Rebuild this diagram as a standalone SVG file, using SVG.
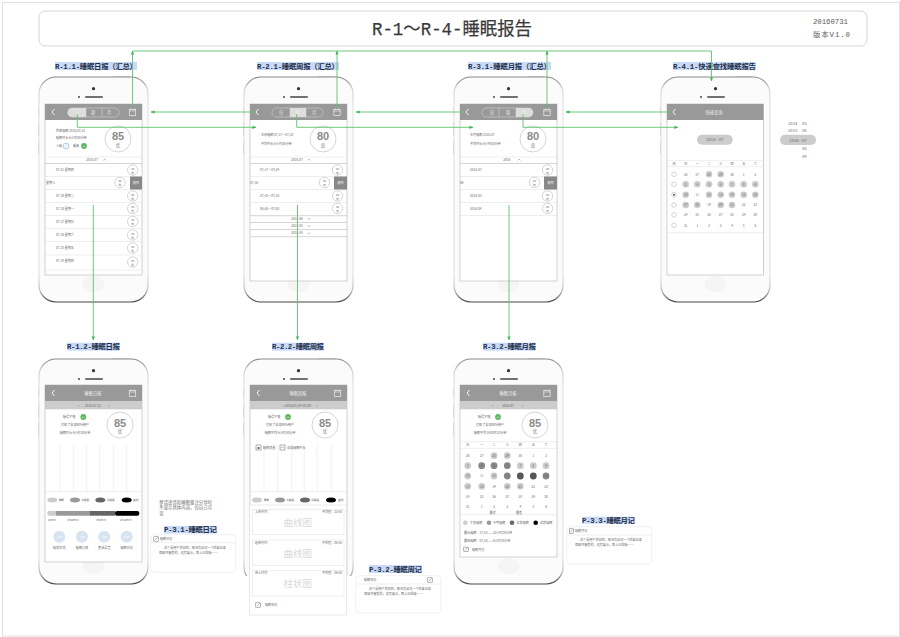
<svg xmlns="http://www.w3.org/2000/svg" width="900" height="637" viewBox="0 0 900 637">
<style>
text{font-family:"Noto Sans CJK SC","Liberation Sans",sans-serif;fill:#666;font-size:3.1px;opacity:.96}
.c{text-anchor:middle}
.r{text-anchor:end}
.lbl{font-family:"Liberation Mono","Noto Sans CJK SC",monospace;font-size:7.4px;font-weight:700;fill:#1a2a44}
.hl{fill:#c9daf8}
text.w{fill:#f4f4f4}
.t{font-size:4.2px}
.big{font-family:"Liberation Sans","DejaVu Sans",sans-serif;font-size:11px;font-weight:700;fill:#888}
.med{font-size:4.4px;fill:#777}
.wm{font-size:9.5px;fill:#d8d8d8}
.sc{fill:#fff;stroke:#aaa;stroke-width:.5}
.scr{fill:#fff;stroke:#b4b4b4;stroke-width:.6}
.hd{fill:#999}
.sub{fill:#ccc}
.ln{stroke:#ddd;stroke-width:.5;fill:none}
.ld{stroke:#aaa;stroke-width:.5;fill:none}
.ch{stroke:#e2e2e2;stroke-width:.5;fill:none}
.cv{fill:none;stroke:#666;stroke-width:.4}
.c1{fill:#ccc}.c2{fill:#999}.c3{fill:#666}.c4{fill:#000}
.conn{fill:none;stroke:#5cc46c;stroke-width:.9}
.card{fill:#fff;stroke:#e8e8e8;stroke-width:.6}
.sm{font-size:2.8px}
</style>
<defs>
<marker id="a" markerWidth="4" markerHeight="4" refX="3.6" refY="2" orient="auto" markerUnits="userSpaceOnUse"><path d="M0,.4L4,2L0,3.600z" fill="#3fb653"/></marker>
<linearGradient id="b" x1="0" y1="0" x2="0" y2="1"><stop offset="0" stop-color="#888"/><stop offset=".05" stop-color="#d0d0d0"/><stop offset=".12" stop-color="#e4e4e4"/><stop offset=".88" stop-color="#e4e4e4"/><stop offset=".95" stop-color="#bbb"/><stop offset="1" stop-color="#444"/></linearGradient>
<g id="phone">
<rect x="74" y="-1" width="17" height="3" rx="1" fill="#ddd"/>
<rect x="-1" y="30" width="2" height="8" fill="#ccc"/><rect x="-1" y="46" width="2" height="13" fill="#ccc"/><rect x="-1" y="64" width="2" height="13" fill="#ccc"/>
<rect x="0" y="0" width="109" height="225" rx="17" fill="#fbfbfb" stroke="url(#b)" stroke-width="1.200"/>
<circle cx="54.500" cy="11.700" r="1.600" fill="#333"/><circle cx="40" cy="20" r=".9" fill="#333"/>
<rect x="46" y="19.200" width="18" height="1.600" rx=".8" fill="#444"/>
<ellipse cx="54.500" cy="207" rx="10" ry="7.500" fill="#f5f5f5" stroke="#eee" stroke-width=".6"/>
</g>
<path id="back" d="M2.500,-3L0,0L2.500,3" fill="none" stroke="#f6f6f6" stroke-width="1"/>
<g id="cal"><rect x="-3.200" y="-2.600" width="6.400" height="6" fill="none" stroke="#eee" stroke-width=".7"/><path d="M-3.200,-1H3.200M-1.600,-3.600V-2M1.600,-3.600V-2" stroke="#eee" stroke-width=".6"/></g>
<g id="edit"><rect x="-2.200" y="-2.200" width="4.400" height="4.400" fill="#fff" stroke="#666" stroke-width=".5"/><path d="M-1,1L1.800,-1.800" stroke="#666" stroke-width=".5"/></g>
<g id="smile"><circle r="2.900" fill="#5cb85c"/><path d="M-1.400,.8Q0,-.8 1.400,.8" fill="none" stroke="#fff" stroke-width=".5"/></g>
</defs>
<rect width="900" height="637" fill="#fff"/>
<rect x="2.500" y="2.500" width="897" height="633.500" fill="#fff" stroke="#e0e0e0"/>
<g id="title">
<rect x="39" y="11" width="828" height="35" rx="6" fill="#fff" stroke="#ccc" stroke-width=".8"/>
<text x="372" y="35" textLength="160" lengthAdjust="spacingAndGlyphs" style="font-family:'Liberation Mono','Noto Sans CJK SC',monospace;font-size:18.500px;fill:#333;stroke:#333;stroke-width:.25">R-1～R-4-睡眠报告</text>
<text x="813" y="24" textLength="35" style="font-family:'Liberation Mono',monospace;font-size:7.400px;fill:#555">20160731</text>
<text x="813" y="36.500" textLength="37" style="font-family:'Liberation Mono','Noto Sans CJK SC',monospace;font-size:7.400px;fill:#555">版本V1.0</text>
</g>

<g id="R-1-1">
<rect class="hl" x="55" y="62" width="82" height="8"/><text class="lbl" x="55" y="68.600" textLength="82">R-1.1-睡眠日报（汇总）</text>
<use href="#phone" x="39" y="77"/>
<rect class="scr" x="45" y="104" width="97" height="171"/><rect class="hd" x="45" y="104" width="97" height="16"/>
<use href="#back" x="52" y="112"/><use href="#cal" x="132.500" y="112"/>
<rect x="68" y="108" width="51" height="9" rx="4.500" fill="none" stroke="#ddd" stroke-width=".5"/>
<path d="M72,108H86V117H72a4.500,4.500 0 0 1 0,-9z" fill="#ddd"/><path class="ln" d="M86,108V117M102,108V117"/>
<text class="w c t" x="77" y="114">日</text><text class="w c t" x="93" y="114">周</text><text class="w c t" x="109" y="114">月</text>
<text x="56" y="132">昨夜睡眠 2016/07/31</text><text x="56" y="138.500">睡眠时长 6小时30分钟</text>
<text x="56" y="147.200">入睡</text><circle cx="66" cy="146" r="3" fill="#eaf2fb" stroke="#6fa8dc" stroke-width=".5"/>
<text x="73" y="147.200">醒来</text><use href="#smile" x="84" y="146"/>
<circle class="sc" cx="118" cy="139" r="13"/><text class="big c" x="118" y="140">85</text><text class="med c" x="118" y="147">优</text>
<path class="ln" d="M45,157H142"/><text class="c" x="92" y="160.800">2016-07</text><path class="cv" d="M103.200,160.500L104.700,159L106.200,160.500"/>
<path class="ld" d="M45,163.500H142"/><path class="ln" d="M45,176.500H142M45,189.500H142M45,202.500H142M45,215.500H142M45,228.500H142M45,241.500H142M45,255H142M45,270H142"/>
<rect x="130" y="176.500" width="12" height="13" fill="#888"/><text class="w c" x="136" y="184.300">删除</text>
<text x="56" y="171">07-31 星期四</text><text x="46" y="183.500">星期三</text><text x="56" y="197">07-29 星期二</text><text x="56" y="210">07-28 星期一</text><text x="56" y="222.500">07-27 星期日</text><text x="56" y="235.500">07-26 星期六</text><text x="56" y="248.500">07-25 星期五</text><text x="56" y="262">07-24 星期四</text>
<circle class="sc" cx="132.700" cy="170" r="5.200"/><text class="c sm" x="132.700" y="169.500">85</text><text class="c sm" x="132.700" y="173.500">优</text>
<circle class="sc" cx="120" cy="182.500" r="5.200"/><text class="c sm" x="120" y="182">85</text><text class="c sm" x="120" y="186">优</text>
<circle class="sc" cx="132.700" cy="196" r="5.200"/><text class="c sm" x="132.700" y="195.500">85</text><text class="c sm" x="132.700" y="199.500">优</text>
<circle class="sc" cx="132.700" cy="208.500" r="5.200"/><text class="c sm" x="132.700" y="208">85</text><text class="c sm" x="132.700" y="212">优</text>
<circle class="sc" cx="132.700" cy="221.500" r="5.200"/><text class="c sm" x="132.700" y="221">85</text><text class="c sm" x="132.700" y="225">优</text>
<circle class="sc" cx="132.700" cy="235" r="5.200"/><text class="c sm" x="132.700" y="234.500">85</text><text class="c sm" x="132.700" y="238.500">优</text>
<circle class="sc" cx="132.700" cy="248" r="5.200"/><text class="c sm" x="132.700" y="247.500">85</text><text class="c sm" x="132.700" y="251.500">优</text>
<circle class="sc" cx="132.700" cy="262" r="5.200"/><text class="c sm" x="132.700" y="261.500">85</text><text class="c sm" x="132.700" y="265.500">优</text>
</g>

<g id="R-2-1">
<rect class="hl" x="257" y="62" width="82" height="8"/><text class="lbl" x="257" y="68.600" textLength="82">R-2.1-睡眠周报（汇总）</text>
<use href="#phone" x="244" y="77"/>
<rect class="scr" x="250" y="104" width="97" height="177"/><rect class="hd" x="250" y="104" width="97" height="16"/>
<use href="#back" x="256" y="112"/><use href="#cal" x="337" y="112"/>
<rect x="272" y="108" width="51" height="9" rx="4.500" fill="none" stroke="#ddd" stroke-width=".5"/>
<rect x="290" y="108" width="16" height="9" fill="#ddd"/><path class="ln" d="M290,108V117M306,108V117"/>
<text class="w c t" x="281" y="114">日</text><text class="w c t" x="297.500" y="114">周</text><text class="w c t" x="314" y="114">月</text>
<text x="261" y="136">本周睡眠 07/17 ~ 07/23</text><text x="261" y="144.500">平均时长 6小时30分钟</text>
<circle class="sc" cx="323" cy="139" r="13"/><text class="big c" x="323" y="140">80</text><text class="med c" x="323" y="147">良</text>
<path class="ln" d="M250,157H347"/><text class="c" x="297" y="160.800">2016-07</text><path class="cv" d="M307.500,160.500L309,159L310.500,160.500"/>
<path class="ld" d="M250,163.500H347"/><path class="ln" d="M250,176.500H347M250,189.500H347M250,202.500H347"/><path class="ld" d="M250,215.700H347M250,222.500H347M250,229.500H347M250,236.700H347"/>
<rect x="334" y="176.500" width="13" height="13" fill="#888"/><text class="w c" x="340.500" y="184.300">删除</text>
<text x="260" y="171">07/17 ~ 07/24</text><text x="250" y="183.500">07/16</text><text x="260" y="196.500">07/10 ~ 07/16</text><text x="260" y="210">06/26 ~ 07/02</text>
<text class="c" x="297" y="219.500">2016-06</text><text class="c" x="297" y="226.800">2016-05</text><text class="c" x="297" y="234.200">2016-04</text>
<path class="cv" d="M307.500,218L309,219.500L310.500,218M307.500,225.300L309,226.800L310.500,225.300M307.500,232.700L309,234.200L310.500,232.700"/>
<circle class="sc" cx="337.500" cy="170" r="5.200"/><text class="c sm" x="337.500" y="169.500">80</text><text class="c sm" x="337.500" y="173.500">良</text>
<circle class="sc" cx="324.500" cy="182.500" r="5.200"/><text class="c sm" x="324.500" y="182">80</text><text class="c sm" x="324.500" y="186">良</text>
<circle class="sc" cx="337.500" cy="196" r="5.200"/><text class="c sm" x="337.500" y="195.500">80</text><text class="c sm" x="337.500" y="199.500">良</text>
<circle class="sc" cx="337.500" cy="208.500" r="5.200"/><text class="c sm" x="337.500" y="208">80</text><text class="c sm" x="337.500" y="212">良</text>
</g>

<g id="R-3-1">
<rect class="hl" x="468" y="62" width="83" height="8"/><text class="lbl" x="468" y="68.600" textLength="83">R-3.1-睡眠月报（汇总）</text>
<use href="#phone" x="454" y="77"/>
<rect class="scr" x="460" y="104" width="97" height="177"/><rect class="hd" x="460" y="104" width="97" height="16"/>
<use href="#back" x="466" y="112"/><use href="#cal" x="547" y="112"/>
<rect x="482" y="108" width="51" height="9" rx="4.500" fill="none" stroke="#ddd" stroke-width=".5"/>
<path d="M516,108H528.500a4.500,4.500 0 0 1 0,9H516z" fill="#ddd"/><path class="ln" d="M499,108V117M516,108V117"/>
<text class="w c t" x="492" y="114">日</text><text class="w c t" x="508" y="114">周</text><text class="w c t" x="524" y="114">月</text>
<text x="470" y="136">本月睡眠 2016-07</text><text x="470" y="144.500">平均时长 6小时30分钟</text>
<circle class="sc" cx="533" cy="139" r="13"/><text class="big c" x="533" y="140">80</text><text class="med c" x="533" y="147">良</text>
<path class="ln" d="M460,157H557"/><text class="c" x="506.700" y="160.800">2016</text><path class="cv" d="M517.500,160.500L519,159L520.500,160.500"/>
<path class="ld" d="M460,163.500H557"/><path class="ln" d="M460,176.500H557M460,189.500H557M460,202.500H557M460,215.500H557"/>
<rect x="544" y="176.500" width="13" height="13" fill="#888"/><text class="w c" x="550.500" y="184.300">删除</text>
<text x="470" y="171">2016-07</text><text x="460" y="183.500">06</text><text x="470" y="197">2016-05</text><text x="470" y="210">2016-04</text>
<circle class="sc" cx="547.500" cy="170" r="5.200"/><text class="c sm" x="547.500" y="169.500">80</text><text class="c sm" x="547.500" y="173.500">良</text>
<circle class="sc" cx="534.500" cy="182.500" r="5.200"/><text class="c sm" x="534.500" y="182">80</text><text class="c sm" x="534.500" y="186">良</text>
<circle class="sc" cx="547.500" cy="196" r="5.200"/><text class="c sm" x="547.500" y="195.500">80</text><text class="c sm" x="547.500" y="199.500">良</text>
<circle class="sc" cx="547.500" cy="208.500" r="5.200"/><text class="c sm" x="547.500" y="208">80</text><text class="c sm" x="547.500" y="212">良</text>
</g>

<g id="R-4-1">
<rect class="hl" x="673" y="62" width="83" height="8"/><text class="lbl" x="673" y="68.600" textLength="83">R-4.1-快速查找睡眠报告</text>
<use href="#phone" x="661" y="77"/>
<rect class="scr" x="667" y="104" width="96.500" height="171"/><rect class="hd" x="667" y="104" width="96.500" height="16"/>
<use href="#back" x="673" y="112"/><text class="w c t" x="714" y="113.500">快速查询</text>
<rect x="697" y="134.700" width="35.700" height="10" rx="5" fill="#ccc"/><text class="c t" x="714.800" y="141.300">2016 - 07</text>
<path class="ln" d="M667,160.700H763.500M667,166.700H763.500M667,232.700H763.500"/>
<text class="c" x="674" y="165">周</text><text class="c" x="685.700" y="165">日</text><text class="c" x="697.300" y="165">一</text><text class="c" x="709" y="165">二</text><text class="c" x="720.700" y="165">三</text><text class="c" x="732" y="165">四</text><text class="c" x="743.700" y="165">五</text><text class="c" x="755.300" y="165">六</text>
<g fill="#fff" stroke="#aaa" stroke-width=".5"><circle cx="674" cy="174.300" r="2.300"/><circle cx="674" cy="184.300" r="2.300"/><circle cx="674" cy="194.700" r="2.300"/><circle cx="674" cy="205" r="2.300"/><circle cx="674" cy="215" r="2.300"/><circle cx="674" cy="225.300" r="2.300"/></g><circle cx="674" cy="194.700" r="1" fill="#555"/>
<g class="c1"><circle cx="709" cy="174.300" r="3.300"/><circle cx="720.700" cy="174.300" r="3.300"/><circle cx="685.700" cy="184.300" r="3.300"/><circle cx="697.300" cy="184.300" r="3.300"/><circle cx="709" cy="184.300" r="3.300"/><circle cx="720.700" cy="184.300" r="3.300"/><circle cx="732" cy="184.300" r="3.300"/><circle cx="743.700" cy="184.300" r="3.300"/><circle cx="755.300" cy="184.300" r="3.300"/><circle cx="685.700" cy="194.700" r="3.300"/><circle cx="709" cy="194.700" r="3.300"/><circle cx="720.700" cy="194.700" r="3.300"/><circle cx="732" cy="194.700" r="3.300"/><circle cx="743.700" cy="194.700" r="3.300"/><circle cx="755.300" cy="194.700" r="3.300"/><circle cx="685.700" cy="205" r="3.300"/><circle cx="697.300" cy="205" r="3.300"/><circle cx="720.700" cy="205" r="3.300"/><circle cx="732" cy="205" r="3.300"/></g>
<text class="c" x="685.700" y="175.500">26</text><text class="c" x="697.300" y="175.500">27</text><text class="c" x="709" y="175.500">28</text><text class="c" x="720.700" y="175.500">29</text><text class="c" x="732" y="175.500">30</text><text class="c" x="743.700" y="175.500">1</text><text class="c" x="755.300" y="175.500">2</text>
<text class="c" x="685.700" y="185.500">3</text><text class="c" x="697.300" y="185.500">4</text><text class="c" x="709" y="185.500">5</text><text class="c" x="720.700" y="185.500">6</text><text class="c" x="732" y="185.500">7</text><text class="c" x="743.700" y="185.500">8</text><text class="c" x="755.300" y="185.500">9</text>
<text class="c" x="685.700" y="196">10</text><text class="c" x="697.300" y="196">11</text><text class="c" x="709" y="196">12</text><text class="c" x="720.700" y="196">13</text><text class="c" x="732" y="196">14</text><text class="c" x="743.700" y="196">15</text><text class="c" x="755.300" y="196">16</text>
<text class="c" x="685.700" y="206.200">17</text><text class="c" x="697.300" y="206.200">18</text><text class="c" x="709" y="206.200">19</text><text class="c" x="720.700" y="206.200">20</text><text class="c" x="732" y="206.200">21</text><text class="c" x="743.700" y="206.200">22</text><text class="c" x="755.300" y="206.200">23</text>
<text class="c" x="685.700" y="216.200">24</text><text class="c" x="697.300" y="216.200">25</text><text class="c" x="709" y="216.200">26</text><text class="c" x="720.700" y="216.200">27</text><text class="c" x="732" y="216.200">28</text><text class="c" x="743.700" y="216.200">29</text><text class="c" x="755.300" y="216.200">30</text>
<text class="c" x="685.700" y="226.500">31</text><text class="c" x="697.300" y="226.500">1</text><text class="c" x="709" y="226.500">2</text><text class="c" x="720.700" y="226.500">3</text><text class="c" x="732" y="226.500">4</text><text class="c" x="743.700" y="226.500">5</text><text class="c" x="755.300" y="226.500">6</text>
</g>

<g id="date-picker">
<text class="t" x="788" y="124.500">2014</text><text class="t" x="802" y="124.500">05</text>
<text class="t" x="788" y="132">2015</text><text class="t" x="802" y="132">06</text>
<rect x="780" y="134.700" width="36" height="10.300" rx="5.100" fill="#ccc"/><text class="c t" x="798" y="141.500">2016 - 07</text>
<text class="t" x="802" y="150">08</text><text class="t" x="802" y="157.500">09</text>
</g>

<g id="R-1-2">
<rect class="hl" x="67" y="342.700" width="53" height="8"/><text class="lbl" x="67" y="349.300" textLength="53">R-1.2-睡眠日报</text>
<use href="#phone" x="39" y="359"/>
<rect class="scr" x="45" y="385" width="97" height="177"/><rect class="hd" x="45" y="385" width="97" height="16"/><rect class="sub" x="45" y="401" width="97" height="8.300"/>
<use href="#back" x="52" y="393"/><use href="#cal" x="132.500" y="393"/><text class="w c t" x="93" y="394.500">睡眠日报</text>
<text class="c" x="78.700" y="406.500">&lt;</text><text class="c" x="93" y="406.500">2016-07-31</text><text class="c" x="109" y="406.500">&gt;</text>
<text x="63" y="418.200">睡得不错</text><use href="#smile" x="83.300" y="417"/>
<text class="c" x="75" y="426.200">打败了全球90%用户</text><text class="c" x="75" y="434.200">睡眠时长 6小时30分钟</text>
<circle class="sc" cx="120" cy="425" r="13"/><text class="big c" x="120" y="426.500">85</text><text class="med c" x="120" y="433">优</text>
<path class="ch" d="M60,445V491.700M73.300,445V491.700M86.700,445V491.700M99.700,445V491.700M113.300,445V491.700M126.700,445V491.700"/>
<path class="ln" d="M45,491.700H142"/>
<ellipse class="c1" cx="52.300" cy="500" rx="5" ry="2.500"/><ellipse class="c2" cx="75" cy="500" rx="5" ry="2.500"/><ellipse class="c3" cx="100.300" cy="500" rx="5" ry="2.500"/><ellipse class="c4" cx="126.700" cy="500" rx="5" ry="2.500"/>
<text class="sm" x="58.500" y="501">清醒</text><text class="sm" x="81" y="501">浅睡眠</text><text class="sm" x="106.500" y="501">深睡眠</text><text class="sm" x="133" y="501">其他</text>
<rect class="c1" x="47.300" y="511" width="10" height="4.700" rx="2"/><rect class="c2" x="56" y="511" width="34" height="4.700"/><rect class="c3" x="90" y="511" width="25" height="4.700"/><rect class="c4" x="115" y="511" width="24.300" height="4.700" rx="2"/>
<text class="sm" x="48" y="521">25min</text><text class="sm" x="67" y="521">3h40min</text><text class="sm" x="96" y="521">3h0min</text><text class="sm" x="120" y="521">2h10min</text>
<g fill="#d7e3f0"><circle cx="59.300" cy="536.700" r="6"/><circle cx="82" cy="536.700" r="6"/><circle cx="104.300" cy="536.700" r="6"/><circle cx="126.700" cy="536.700" r="6"/></g>
<text class="c sm" x="59.300" y="538" style="fill:#fff">添加</text><text class="c sm" x="82" y="538" style="fill:#fff">添加</text><text class="c sm" x="104.300" y="538" style="fill:#fff">添加</text><text class="c sm" x="126.700" y="538" style="fill:#fff">添加</text>
<text class="c" x="59.300" y="548.500">睡前状态</text><text class="c" x="82" y="548.500">睡眠心情</text><text class="c" x="104.300" y="548.500">梦话语音</text><text class="c" x="126.700" y="548.500">睡眠日记</text>
</g>

<g id="note">
<text x="159.300" y="503.500" style="font-size:4.400px">梦话语音和睡眠备注分享时</text><text x="159.300" y="509" style="font-size:4.400px">不显示具体内容，仅自己可</text><text x="159.300" y="514.500" style="font-size:4.400px">见</text>
</g>

<g id="P-3-1">
<rect class="hl" x="164" y="526" width="53" height="7.500"/><text class="lbl" x="164" y="532.300" textLength="53">P-3.1-睡眠日记</text>
<rect class="card" x="150.700" y="534.700" width="85" height="37.600" rx="4"/><path class="ln" d="M150.700,542.700H235.700"/>
<use href="#edit" x="156" y="539"/><text x="160" y="540.300">睡眠日记</text>
<text x="164" y="548.500">这个是用户添加的，每天有且仅一个的备忘录</text><text x="159" y="553.800">保留并接受的，没有展示，晚上早些睡……</text>
</g>

<g id="R-2-2">
<rect class="hl" x="272" y="342.700" width="52" height="8"/><text class="lbl" x="272" y="349.300" textLength="52">R-2.2-睡眠周报</text>
<use href="#phone" x="244" y="359"/>
<rect class="scr" x="250" y="385" width="97" height="190"/><rect class="hd" x="250" y="385" width="97" height="16"/><rect class="sub" x="250" y="401" width="97" height="8.300"/>
<use href="#back" x="257" y="393"/><use href="#cal" x="337.500" y="393"/><text class="w c t" x="298" y="394.500">睡眠周报</text>
<text class="c" x="283" y="406.500">&lt;</text><text class="c" x="298" y="406.500">2016/07/24~07/30</text><text class="c" x="317" y="406.500">&gt;</text>
<text x="268" y="418.200">睡得不错</text><use href="#smile" x="288" y="417"/>
<text class="c" x="280" y="426.200">打败了全球90%用户</text><text class="c" x="280" y="434.200">睡眠平均 6小时30分钟</text>
<circle class="sc" cx="325" cy="425" r="13"/><text class="big c" x="325" y="426.500">85</text><text class="med c" x="325" y="433">优</text>
<path class="ch" d="M264,445V491.700M277.700,445V491.700M291.700,445V491.700M304.300,445V491.700M317.300,445V491.700M331,445V491.700"/>
<path class="ln" d="M250,491.700H347"/>
<rect x="256" y="445" width="5" height="5" fill="#fff" stroke="#666" stroke-width=".5"/><rect x="257.500" y="447" width="2" height="2" fill="#666"/><text x="263" y="448.500">睡眠质量</text>
<rect x="280" y="445" width="5" height="5" fill="#fff" stroke="#666" stroke-width=".5"/><path d="M280.500,448L282.500,447L284.500,448" fill="none" stroke="#666" stroke-width=".4"/><text x="287" y="448.500">深浅睡眠时长</text>
<ellipse class="c1" cx="257" cy="500" rx="5" ry="2.500"/><ellipse class="c2" cx="280" cy="500" rx="5" ry="2.500"/><ellipse class="c3" cx="305" cy="500" rx="5" ry="2.500"/><ellipse class="c4" cx="331" cy="500" rx="5" ry="2.500"/>
<text class="sm" x="263.500" y="501">清醒</text><text class="sm" x="286" y="501">浅睡眠</text><text class="sm" x="311" y="501">深睡眠</text><text class="sm" x="338" y="501">其他</text>
<rect x="240" y="576" width="120" height="14" fill="#fff"/>
<rect x="249.500" y="505" width="97" height="110" fill="#fff" stroke="#ddd" stroke-width=".6"/>
<rect x="252.300" y="509.300" width="91.700" height="25" fill="#fff" stroke="#ddd" stroke-width=".5"/><text x="255" y="512.800">上床时间</text><text class="r" x="342" y="512.800">平均值：23:50</text><text class="c wm" x="297.700" y="525.500">曲线图</text>
<rect x="252.300" y="540" width="91.700" height="25.300" fill="#fff" stroke="#ddd" stroke-width=".5"/><text x="255" y="543.500">起床时间</text><text class="r" x="342" y="543.500">平均值：06:50</text><text class="c wm" x="297.700" y="556.500">曲线图</text>
<rect x="252.300" y="570.300" width="91.700" height="25.700" fill="#fff" stroke="#ddd" stroke-width=".5"/><text x="255" y="574">床上时间</text><text class="r" x="342" y="574">平均值：06:50</text><text class="c wm" x="297.700" y="587">柱状图</text>
<use href="#edit" x="258" y="605"/><text x="265" y="606.200">睡眠周记</text>
</g>

<g id="P-3-2">
<rect class="hl" x="369" y="565" width="53" height="8"/><text class="lbl" x="369" y="571.600" textLength="53">P-3.2-睡眠周记</text>
<rect class="card" x="355.700" y="575.700" width="85.300" height="37.300" rx="4"/><path class="ln" d="M355.700,584H441"/>
<use href="#edit" x="430" y="580"/><text x="364" y="581.300">睡眠周记</text>
<text x="369" y="589.800">这个是用户添加的，每天有且仅一个的备忘录</text><text x="364" y="595.300">保留并接受的，没有展示，晚上早些睡……</text>
</g>

<g id="R-3-2">
<rect class="hl" x="483" y="342.700" width="53" height="8"/><text class="lbl" x="483" y="349.300" textLength="53">R-3.2-睡眠月报</text>
<use href="#phone" x="454" y="359"/>
<rect class="scr" x="460" y="385" width="97" height="172"/><rect class="hd" x="460" y="385" width="97" height="16"/><rect class="sub" x="460" y="401" width="97" height="8.300"/>
<use href="#back" x="467" y="393"/><use href="#cal" x="547" y="393"/><text class="w c t" x="508" y="394.500">睡眠月报</text>
<text class="c" x="492.700" y="406.500">&lt;</text><text class="c" x="508" y="406.500">2016-07</text><text class="c" x="522.700" y="406.500">&gt;</text>
<text x="478" y="418.200">睡得不错</text><use href="#smile" x="498" y="417"/>
<text class="c" x="490" y="426.200">打败了全球90%用户</text><text class="c" x="490" y="434.200">睡眠平均 3502时10分钟</text>
<circle class="sc" cx="535" cy="425" r="13"/><text class="big c" x="535" y="426.500">85</text><text class="med c" x="535" y="433">优</text>
<path class="ln" d="M460,441.700H557M460,448.300H557M460,514.700H557"/>
<text class="c" x="467.700" y="445.800">日</text><text class="c" x="481.700" y="445.800">一</text><text class="c" x="494" y="445.800">二</text><text class="c" x="507.300" y="445.800">三</text><text class="c" x="520.300" y="445.800">四</text><text class="c" x="533.300" y="445.800">五</text><text class="c" x="546" y="445.800">六</text>
<g class="c1"><circle cx="494" cy="455.700" r="3.400"/><circle cx="507.300" cy="455.700" r="3.400"/><circle cx="467.700" cy="465.700" r="3.400"/><circle cx="520.300" cy="465.700" r="3.400"/><circle cx="533.300" cy="465.700" r="3.400"/><circle cx="546" cy="465.700" r="3.400"/><circle cx="467.700" cy="476" r="3.400"/><circle cx="494" cy="476" r="3.400"/><circle cx="467.700" cy="486.300" r="3.400"/><circle cx="481.700" cy="486.300" r="3.400"/><circle cx="507.300" cy="486.300" r="3.400"/><circle cx="520.300" cy="486.300" r="3.400"/></g>
<g fill="#888"><circle cx="481.700" cy="465.700" r="3.400"/><circle cx="494" cy="465.700" r="3.400"/><circle cx="507.300" cy="465.700" r="3.400"/><circle cx="507.300" cy="476" r="3.400"/><circle cx="546" cy="476" r="3.400"/></g>
<g fill="#555"><circle cx="520.300" cy="476" r="3.400"/><circle cx="533.300" cy="476" r="3.400"/></g>
<text class="c" x="467.700" y="457">26</text><text class="c" x="481.700" y="457">27</text><text class="c" x="494" y="457">28</text><text class="c" x="507.300" y="457">29</text><text class="c" x="520.300" y="457">30</text><text class="c" x="533.300" y="457">1</text><text class="c" x="546" y="457">2</text>
<text class="c" x="467.700" y="467">3</text><text class="c" x="481.700" y="467">4</text><text class="c" x="494" y="467">5</text><text class="c" x="507.300" y="467">6</text><text class="c" x="520.300" y="467">7</text><text class="c" x="533.300" y="467">8</text><text class="c" x="546" y="467">9</text>
<text class="c" x="467.700" y="477.300">10</text><text class="c" x="481.700" y="477.300">11</text><text class="c" x="494" y="477.300">12</text><text class="c" x="507.300" y="477.300">13</text><text class="c" x="520.300" y="477.300">14</text><text class="c" x="533.300" y="477.300">15</text><text class="c" x="546" y="477.300">16</text>
<text class="c" x="467.700" y="487.600">17</text><text class="c" x="481.700" y="487.600">18</text><text class="c" x="494" y="487.600">19</text><text class="c" x="507.300" y="487.600">20</text><text class="c" x="520.300" y="487.600">21</text><text class="c" x="533.300" y="487.600">22</text><text class="c" x="546" y="487.600">23</text>
<text class="c" x="467.700" y="497.600">24</text><text class="c" x="481.700" y="497.600">25</text><text class="c" x="494" y="497.600">26</text><text class="c" x="507.300" y="497.600">27</text><text class="c" x="520.300" y="497.600">28</text><text class="c" x="533.300" y="497.600">29</text><text class="c" x="546" y="497.600">30</text>
<text class="c" x="467.700" y="508">31</text><text class="c" x="481.700" y="508">1</text><text class="c" x="494" y="508">2</text><text class="c" x="507.300" y="508">3</text><text class="c" x="520.300" y="508">4</text><text class="c" x="533.300" y="508">5</text><text class="c" x="546" y="508">6</text>
<text class="c" x="492.700" y="513.800">最优</text><text class="c" x="519" y="513.800">最差</text>
<circle class="c1" cx="465.300" cy="522.700" r="2.300"/><circle class="c2" cx="489" cy="522.700" r="2.300"/><circle class="c3" cx="512" cy="522.700" r="2.300"/><circle class="c4" cx="535.700" cy="522.700" r="2.300"/>
<text x="470" y="523.800">不良睡眠</text><text x="493" y="523.800">中等睡眠</text><text x="516.500" y="523.800">正常睡眠</text><text x="540" y="523.800">优质睡眠</text>
<text x="464" y="534">最长睡眠：27/10——10小时20分钟</text><text x="464" y="542.300">最短睡眠：07/10——6小时10分钟</text>
<use href="#edit" x="466" y="549.300"/><text x="472" y="550.500">睡眠月记</text>
</g>

<g id="P-3-3">
<rect class="hl" x="582" y="516.700" width="53" height="7"/><text class="lbl" x="582" y="522.800" textLength="53">P-3.3-睡眠月记</text>
<rect class="card" x="566.700" y="526.700" width="85" height="37.300" rx="4"/><path class="ln" d="M566.700,535H651.700"/>
<use href="#edit" x="571.500" y="531"/><text x="575" y="532.300">睡眠月记</text>
<text x="580" y="540.500">这个是用户添加的，每天有且仅一个的备忘录</text><text x="575" y="546">保留并接受的，没有展示，晚上早些睡……</text>
</g>

<g id="connectors">
<path class="conn" d="M132.500,108V51" marker-end="url(#a)"/>
<path class="conn" d="M337,108V51" marker-end="url(#a)"/>
<path class="conn" d="M547,108V51" marker-end="url(#a)"/>
<path class="conn" d="M132.500,51H711.500V81" marker-end="url(#a)"/>
<path class="conn" d="M253,112H151" marker-end="url(#a)"/>
<path class="conn" d="M463,112H356" marker-end="url(#a)"/>
<path class="conn" d="M671,112H566" marker-end="url(#a)"/>
<path class="conn" d="M77.300,114V127.300H256" marker-end="url(#a)"/>
<path class="conn" d="M296.700,114V127.300H473" marker-end="url(#a)"/>
<path class="conn" d="M523,114V127.300H678" marker-end="url(#a)"/>
<path class="conn" d="M93.300,205V340" marker-end="url(#a)"/>
<path class="conn" d="M297.500,205V340" marker-end="url(#a)"/>
<path class="conn" d="M509,205V340" marker-end="url(#a)"/>
</g>
</svg>
